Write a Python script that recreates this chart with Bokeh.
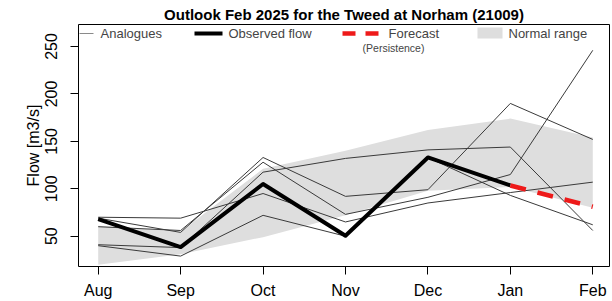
from bokeh.plotting import figure
from bokeh.models import Range1d, Label, Arrow, BoxAnnotation
from bokeh.embed import file_html
from bokeh.resources import INLINE

# ---- data ----
months = ["Aug", "Sep", "Oct", "Nov", "Dec", "Jan", "Feb"]
month_idx = [0, 1, 2, 3, 4, 5, 6]
observed_idx = [0, 1, 2, 3, 4, 5]
observed = [68, 38.5, 105, 50.5, 133, 103.5]
forecast_idx = [5, 6]
forecast = [103.5, 81]
analogue_1 = [41, 38, 117.5, 132, 141, 144, 56]
analogue_2 = [69, 54, 133, 92, 99, 190, 152]
analogue_3 = [60, 56, 128, 73, 91, 115, 246]
analogue_4 = [70, 69, 95, 65, 85, 96, 107]
analogue_5 = [40, 29, 72, 50, 133, 93, 62]
normal_upper = [61, 55, 121, 140, 162, 174, 154]
normal_lower = [20, 31, 49, 72, 98, 102, 80]
y_ticks = [50, 100, 150, 200, 250]

FONT = "Liberation Sans"

p = figure(width=612, height=301, output_backend="svg", toolbar_location=None,
           x_range=Range1d(-0.239, 6.203), y_range=Range1d(18.04, 273.2),
           min_border_left=78, min_border_right=3, min_border_top=24,
           min_border_bottom=35,
           title="Outlook Feb 2025 for the Tweed at Norham (21009)")
p.title.align = "center"
p.title.text_font = FONT
p.title.text_font_size = "15px"
p.title.text_font_style = "bold"
p.title.text_color = "black"
p.title.standoff = 3
p.title.offset = 0

p.background_fill_color = "white"
p.border_fill_color = "white"
p.outline_line_color = "black"
p.outline_line_width = 1
p.xgrid.visible = False
p.ygrid.visible = False

# normal range
p.varea(x=month_idx, y1=normal_lower, y2=normal_upper, fill_color="#dedede")

for a in [analogue_1, analogue_2, analogue_3, analogue_4, analogue_5]:
    p.line(month_idx, a, line_color="#3a3a3a", line_width=1)

p.line(observed_idx, observed, line_color="black", line_width=4, line_join="round")
p.line(forecast_idx, forecast, line_color="#ee1a1a", line_width=4.5, line_dash="16 12")

# axes
for ax in [p.xaxis[0], p.yaxis[0]]:
    ax.axis_line_color = None
    ax.major_tick_line_color = "black"
    ax.major_tick_out = 8
    ax.major_tick_in = 0
    ax.minor_tick_line_color = None
    ax.major_label_text_font = FONT
    ax.major_label_text_font_size = "16px"
    ax.major_label_text_color = "black"

p.xaxis.ticker = month_idx
p.xaxis.major_label_overrides = {i: m for i, m in zip(month_idx, months)}
p.xaxis.major_label_standoff = 7

p.yaxis.ticker = y_ticks
p.yaxis.major_label_orientation = "vertical"
p.yaxis.major_label_standoff = 13
p.yaxis.axis_label = "Flow [m3/s]"
p.yaxis.axis_label_text_font = FONT
p.yaxis.axis_label_text_font_size = "16px"
p.yaxis.axis_label_text_font_style = "normal"
p.yaxis.axis_label_text_color = "black"
p.yaxis.axis_label_standoff = 1

# ---- legend (screen units, relative to frame) ----
FB = 266  # frame bottom (page px)
FL = 78   # frame left (page px)

def sx(px):
    return px - FL

def sy(py):
    return FB - py

def seg(x0, x1, y, color, width, dash="solid"):
    p.add_layout(Arrow(end=None, x_start=sx(x0), y_start=sy(y), x_end=sx(x1), y_end=sy(y),
                       start_units="screen", end_units="screen",
                       line_color=color, line_width=width, line_dash=dash))

def txt(x, y, s, size="13px", align="left"):
    p.add_layout(Label(x=sx(x), y=sy(y), x_units="screen", y_units="screen", text=s,
                       text_font=FONT, text_font_size=size, text_align=align,
                       text_baseline="middle"))

LY = 33
seg(79, 93, LY, "#8a8a8a", 1)
txt(100, LY, "Analogues")
seg(194, 222, LY, "black", 4)
txt(228, LY, "Observed flow")
seg(342, 380, LY, "#ee1a1a", 4.5, "13 10")
txt(388, LY, "Forecast")
txt(393, 47, "(Persistence)", size="10.5px", align="center")
p.add_layout(BoxAnnotation(left=sx(477), right=sx(502), top=sy(27), bottom=sy(38),
                           left_units="screen", right_units="screen",
                           top_units="screen", bottom_units="screen",
                           fill_color="#dedede", fill_alpha=1, line_color=None))
txt(508, LY, "Normal range")

open("out.html", "w").write(file_html(p, INLINE))
